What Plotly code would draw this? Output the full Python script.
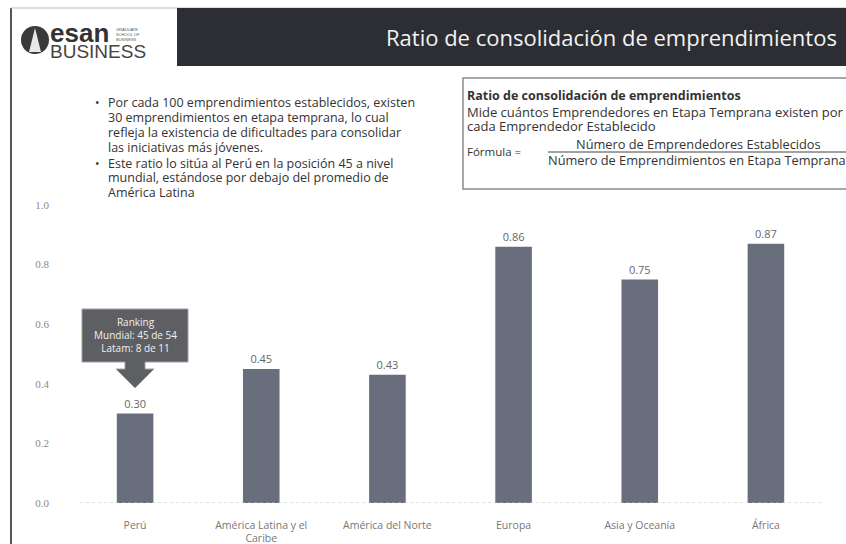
import plotly.graph_objects as go

# Data
regions = ["Perú", "América Latina y el<br>Caribe", "América del Norte",
           "Europa", "Asia y Oceanía", "África"]
ratios = [0.30, 0.45, 0.43, 0.86, 0.75, 0.87]
y_ticks = [0.0, 0.2, 0.4, 0.6, 0.8, 1.0]
y_tick_labels = ["0.0", "0.2", "0.4", "0.6", "0.8", "1.0"]

W, H = 846, 544
BAR = "#686e7b"
TXT = "#333333"


def px(x):
    return x / W


def py(y):
    return (H - y) / H


fig = go.Figure()

fig.add_trace(go.Bar(
    x=regions, y=ratios,
    marker=dict(color=BAR, line=dict(width=0)),
    texttemplate="%{y:.2f}", textposition="outside",
    textfont=dict(family="Open Sans", size=11, color="#666666"),
    cliponaxis=False, showlegend=False, hoverinfo="skip",
))

shapes = []
# frame
shapes.append(dict(type="line", xref="paper", yref="paper", x0=px(11), x1=px(11),
                   y0=py(8), y1=0, line=dict(color="#555555", width=2)))
shapes.append(dict(type="line", xref="paper", yref="paper", x0=px(11), x1=1,
                   y0=py(8), y1=py(8), line=dict(color="#bbbbbb", width=1)))
# dark header bar
shapes.append(dict(type="rect", xref="paper", yref="paper", x0=px(177), x1=1,
                   y0=py(66), y1=py(8), fillcolor="#2c2e33", line=dict(width=0)))
# logo circle with tree
shapes.append(dict(type="circle", xref="paper", yref="paper", x0=px(21), x1=px(49),
                   y0=py(54), y1=py(26), fillcolor="#3a3a3a", line=dict(width=0)))
shapes.append(dict(type="path", xref="paper", yref="paper",
                   path=f"M {px(35)} {py(28)} L {px(29)} {py(52)} L {px(41)} {py(52)} Z",
                   fillcolor="#e8e8e8", line=dict(width=0)))
# definition box
shapes.append(dict(type="rect", xref="paper", yref="paper", x0=px(463), x1=1.01,
                   y0=py(189), y1=py(78), fillcolor="white",
                   line=dict(color="#8a8a8a", width=1.5)))
# fraction line
shapes.append(dict(type="line", xref="paper", yref="paper", x0=px(548), x1=1,
                   y0=py(152), y1=py(152), line=dict(color="#444444", width=1)))
# dotted baseline
shapes.append(dict(type="line", xref="paper", yref="y", x0=px(80), x1=px(822),
                   y0=0, y1=0, line=dict(color="#bdbdbd", width=1, dash="dot")))
# callout with arrow pointing at Perú
callout = (f"M {px(82)} {py(309)} L {px(188)} {py(309)} L {px(188)} {py(362)} "
           f"L {px(145)} {py(362)} L {px(145)} {py(369)} L {px(154)} {py(369)} "
           f"L {px(135)} {py(388)} L {px(116)} {py(369)} L {px(125)} {py(369)} "
           f"L {px(125)} {py(362)} L {px(82)} {py(362)} Z")
shapes.append(dict(type="path", xref="paper", yref="paper", path=callout,
                   fillcolor="#5e5f63", line=dict(color="#a0a0a0", width=1)))

annotations = []


def note(x, y, text, size=12, color=TXT, family="Open Sans", xanchor="left",
         yanchor="middle", align="left"):
    annotations.append(dict(x=px(x), y=py(y), xref="paper", yref="paper", text=text,
                            showarrow=False, xanchor=xanchor, yanchor=yanchor,
                            align=align, font=dict(family=family, size=size, color=color)))


# header
note(611, 37, "Ratio de consolidación de emprendimientos", size=22, color="#f2f2f2",
     xanchor="center")
note(48, 33, "<b>esan</b>", size=26, color="#333333", family="Liberation Sans")
note(114, 34, "GRADUATE<br>SCHOOL OF<br>BUSINESS", size=4, color="#555555",
     family="Liberation Sans")
note(48, 51, "BUSINESS", size=19, color="#444444", family="Liberation Sans")

# bullet text, one line per annotation
bullet_lines = [
    "Por cada 100 emprendimientos establecidos, existen",
    "30 emprendimientos en etapa temprana, lo cual",
    "refleja la existencia de dificultades para consolidar",
    "las iniciativas más jóvenes.",
    "Este ratio lo sitúa al Perú en la posición 45 a nivel",
    "mundial, estándose por debajo del promedio de",
    "América Latina",
]
line_y = [102, 117, 132, 147, 163, 178, 193]
for t, yy in zip(bullet_lines, line_y):
    note(106, yy, t, size=12.5)
note(93, 102, "•", size=12)
note(93, 163, "•", size=12)

# definition box text
note(465, 95, "<b>Ratio de consolidación de emprendimientos</b>", size=12.5)
note(465, 112, "Mide cuántos Emprendedores en Etapa Temprana existen por", size=13)
note(465, 126, "cada Emprendedor Establecido", size=13)
note(465, 151, "Fórmula =", size=11.5)
note(698, 144, "Número de Emprendedores Establecidos", size=12.8, xanchor="center")
note(546, 160, "Número de Emprendimientos en Etapa Temprana", size=12.8)

# callout text
note(135, 335, "Ranking<br>Mundial: 45 de 54<br>Latam: 8 de 11", size=10,
     color="#f0f0f0", xanchor="center", align="center")

fig.update_layout(
    width=W, height=H,
    margin=dict(l=0, r=0, t=0, b=0),
    paper_bgcolor="white", plot_bgcolor="white",
    bargap=0.71,
    shapes=shapes, annotations=annotations,
    xaxis=dict(domain=[px(72), px(829)], showgrid=False, showline=False,
               zeroline=False, ticks="", ticklabelstandoff=14, automargin=False,
               tickfont=dict(family="Open Sans", size=10.5, color="#777777")),
    yaxis=dict(domain=[py(503), py(205)], range=[0, 1.0], showgrid=False,
               showline=False, zeroline=False, tickvals=y_ticks, automargin=False,
               ticktext=y_tick_labels, ticks="", ticklabelstandoff=22,
               tickfont=dict(family="Liberation Serif", size=11, color="#8a8a8a")),
)

fig.write_html("out.html", config={"displayModeBar": False},
               post_script="document.body.style.margin='0';")
